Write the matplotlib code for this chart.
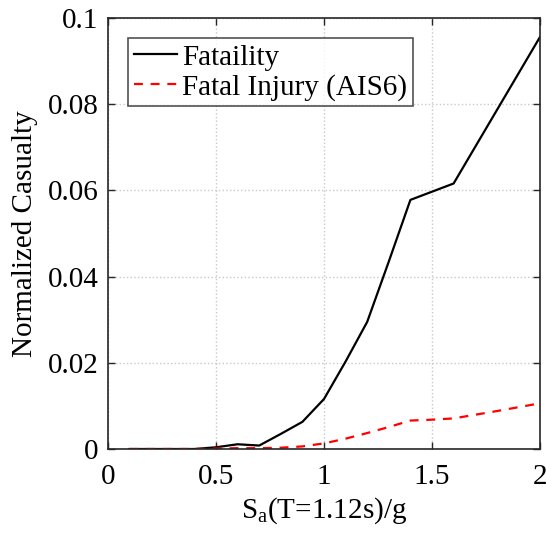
import numpy as np
import matplotlib.pyplot as plt

plt.rcParams['font.family'] = ['Liberation Serif', 'DejaVu Serif']
plt.rcParams['mathtext.fontset'] = 'custom'
plt.rcParams['mathtext.rm'] = 'Liberation Serif'
plt.rcParams['mathtext.it'] = 'Liberation Serif'

# spectral acceleration levels and normalized casualty curves
sa = [0.1, 0.2, 0.3, 0.4, 0.5, 0.6, 0.7, 0.8, 0.9, 1.0, 1.1, 1.2, 1.3, 1.4, 1.5, 1.6, 1.8, 2.0]
fatality = [0.0, 0.0, 0.0, 0.0, 0.0004, 0.0011, 0.0008, 0.0035, 0.0063, 0.0116, 0.0203, 0.0295,
            0.0435, 0.0578, 0.0597, 0.0616, 0.0786, 0.0956]
fatal_injury = [0.0, 0.0, 0.0, 0.0, 0.0001, 0.0002, 0.0002, 0.0003, 0.0006, 0.0013, 0.0024, 0.0037,
                0.0051, 0.0066, 0.0068, 0.0071, 0.0088, 0.0106]

fig = plt.figure(figsize=(5.46, 5.36), dpi=100)
ax = fig.add_axes([108/546, 87/536, 432/546, 431/536])

ax.plot(sa, fatality, '-', color='k', lw=1.6, label='Fataility')
ax.plot(sa, fatal_injury, '--', color='r', lw=1.6, dashes=(4, 3.5), label='Fatal Injury (AIS6)')

ax.set_xlim(0, 2)
ax.set_ylim(0, 0.1)
ax.set_xticks([0, 0.5, 1, 1.5, 2])
ax.set_xticklabels(['0', '0.5', '1', '1.5', '2'])
ax.set_yticks([0, 0.02, 0.04, 0.06, 0.08, 0.1])
ax.set_yticklabels(['0', '0.02', '0.04', '0.06', '0.08', '0.1'])
ax.grid(True, ls=':', color='#c8c8c8', lw=1.0)
ax.tick_params(direction='in', top=True, right=True, labelsize=21, length=5, width=1, color='#262626')
ax.tick_params(axis='x', pad=11)
ax.tick_params(axis='y', pad=7)
for s in ax.spines.values():
    s.set_linewidth(1.2)
    s.set_color('#262626')

ax.set_xlabel(r'S$_\mathrm{a}$(T=1.12s)/g', fontsize=21, labelpad=4)
ax.set_ylabel('Normalized Casualty', fontsize=21, labelpad=7)

leg = ax.legend(loc='upper left', fontsize=21, frameon=True, fancybox=False,
                edgecolor='#262626', handlelength=1.45, handletextpad=0.2, borderpad=0.2,
                labelspacing=0.1, borderaxespad=0.7)
leg.get_frame().set_linewidth(1.2)

fig.savefig('out.png', dpi=100)
